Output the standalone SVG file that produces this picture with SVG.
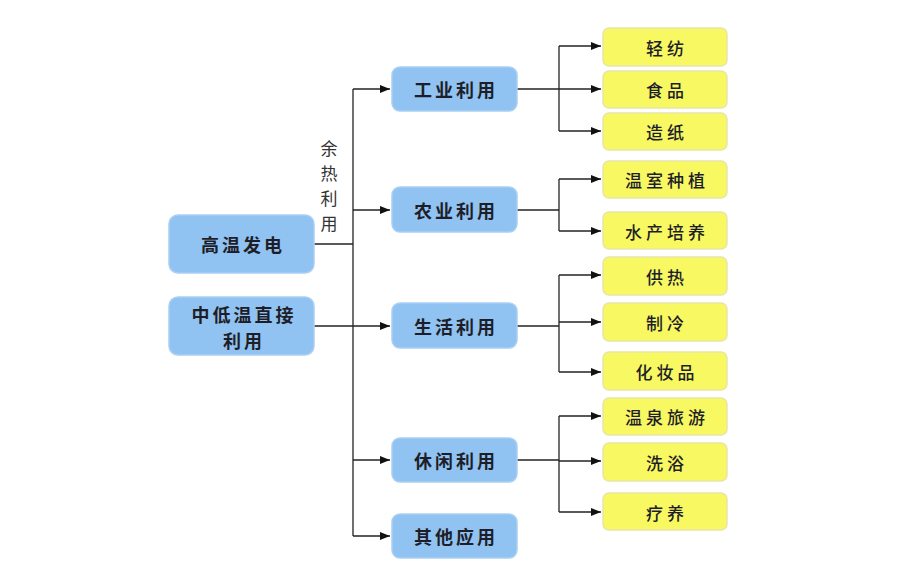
<svg xmlns="http://www.w3.org/2000/svg" width="900" height="577" viewBox="0 0 900 577">
<style>
.blue{fill:#90C2F2;stroke:#A9CFF3;stroke-width:1.5}
.yel{fill:#F8F862;stroke:#E6E6A8;stroke-width:1.5}
.t{font-family:"Noto Sans CJK SC","Liberation Sans",sans-serif;font-weight:bold;fill:#1E1E28;text-anchor:middle;dominant-baseline:central}
.tb{font-size:18px;letter-spacing:3px}
.ty{font-size:17px;letter-spacing:4px;font-weight:500}
.c{fill:none;stroke:#222;stroke-width:1.3}
.lbl{font-family:"Noto Sans CJK SC","Liberation Sans",sans-serif;font-size:17px;fill:#333;text-anchor:middle;dominant-baseline:central}
</style>
<defs>
<marker id="ah" markerWidth="10" markerHeight="8" refX="10" refY="4" orient="auto" markerUnits="userSpaceOnUse">
<path d="M0,0 L10,4 L0,8 z" fill="#111"/>
</marker>
</defs>
<rect width="900" height="577" fill="#fff"/>
<g id="connectors">
<path class="c" d="M353,89 V536"/>
<path class="c" d="M314,244 H353"/>
<path class="c" d="M314,326 H390" marker-end="url(#ah)"/>
<path class="c" d="M353,89 H390" marker-end="url(#ah)"/>
<path class="c" d="M353,210 H390" marker-end="url(#ah)"/>
<path class="c" d="M353,460 H390" marker-end="url(#ah)"/>
<path class="c" d="M353,536 H390" marker-end="url(#ah)"/>
<path class="c" d="M517,89 H559"/>
<path class="c" d="M559,46 V131"/>
<path class="c" d="M559,46 H601" marker-end="url(#ah)"/>
<path class="c" d="M559,89 H601" marker-end="url(#ah)"/>
<path class="c" d="M559,131 H601" marker-end="url(#ah)"/>
<path class="c" d="M517,210 H559"/>
<path class="c" d="M559,179 V231"/>
<path class="c" d="M559,179 H601" marker-end="url(#ah)"/>
<path class="c" d="M559,231 H601" marker-end="url(#ah)"/>
<path class="c" d="M517,326 H559"/>
<path class="c" d="M559,275 V372"/>
<path class="c" d="M559,275 H601" marker-end="url(#ah)"/>
<path class="c" d="M559,322 H601" marker-end="url(#ah)"/>
<path class="c" d="M559,372 H601" marker-end="url(#ah)"/>
<path class="c" d="M517,460 H559"/>
<path class="c" d="M559,416 V512"/>
<path class="c" d="M559,416 H601" marker-end="url(#ah)"/>
<path class="c" d="M559,461 H601" marker-end="url(#ah)"/>
<path class="c" d="M559,512 H601" marker-end="url(#ah)"/>
<text class="lbl" x="329" y="147">余</text>
<text class="lbl" x="329" y="172">热</text>
<text class="lbl" x="329" y="197">利</text>
<text class="lbl" x="329" y="222">用</text>
</g>
<g id="n-gaowen"><rect class="blue" x="169" y="215" width="145" height="58" rx="9"/><text class="t tb" x="243" y="244">高温发电</text></g>
<g id="n-zhongdi"><rect class="blue" x="169" y="297" width="145" height="58" rx="9"/><text class="t tb" x="244" y="314">中低温直接</text><text class="t tb" x="244" y="340">利用</text></g>
<g id="n-gongye"><rect class="blue" x="392" y="67" width="125" height="44" rx="8"/><text class="t tb" x="456" y="89">工业利用</text></g>
<g id="n-nongye"><rect class="blue" x="392" y="187" width="125" height="45" rx="8"/><text class="t tb" x="456" y="210">农业利用</text></g>
<g id="n-shenghuo"><rect class="blue" x="392" y="303" width="125" height="45" rx="8"/><text class="t tb" x="456" y="326">生活利用</text></g>
<g id="n-xiuxian"><rect class="blue" x="392" y="438" width="125" height="44" rx="8"/><text class="t tb" x="456" y="460">休闲利用</text></g>
<g id="n-qita"><rect class="blue" x="392" y="514" width="125" height="44" rx="8"/><text class="t tb" x="456" y="536">其他应用</text></g>
<g id="n-qingfang"><rect class="yel" x="603" y="28" width="124" height="38" rx="6"/><text class="t ty" x="667" y="47">轻纺</text></g>
<g id="n-shipin"><rect class="yel" x="603" y="71" width="124" height="37" rx="6"/><text class="t ty" x="667" y="89">食品</text></g>
<g id="n-zaozhi"><rect class="yel" x="603" y="113" width="124" height="37" rx="6"/><text class="t ty" x="667" y="131">造纸</text></g>
<g id="n-wenshi"><rect class="yel" x="603" y="161" width="124" height="37" rx="6"/><text class="t ty" x="667" y="179">温室种植</text></g>
<g id="n-shuichan"><rect class="yel" x="603" y="212" width="124" height="37" rx="6"/><text class="t ty" x="667" y="231">水产培养</text></g>
<g id="n-gongre"><rect class="yel" x="603" y="257" width="124" height="38" rx="6"/><text class="t ty" x="667" y="276">供热</text></g>
<g id="n-zhileng"><rect class="yel" x="603" y="303" width="124" height="38" rx="6"/><text class="t ty" x="667" y="322">制冷</text></g>
<g id="n-huazhuang"><rect class="yel" x="603" y="352" width="124" height="38" rx="6"/><text class="t ty" x="667" y="371">化妆品</text></g>
<g id="n-wenquan"><rect class="yel" x="603" y="398" width="124" height="37" rx="6"/><text class="t ty" x="667" y="416">温泉旅游</text></g>
<g id="n-xiyu"><rect class="yel" x="603" y="443" width="124" height="38" rx="6"/><text class="t ty" x="667" y="462">洗浴</text></g>
<g id="n-liaoyang"><rect class="yel" x="603" y="493" width="124" height="37" rx="6"/><text class="t ty" x="667" y="512">疗养</text></g>
</svg>
